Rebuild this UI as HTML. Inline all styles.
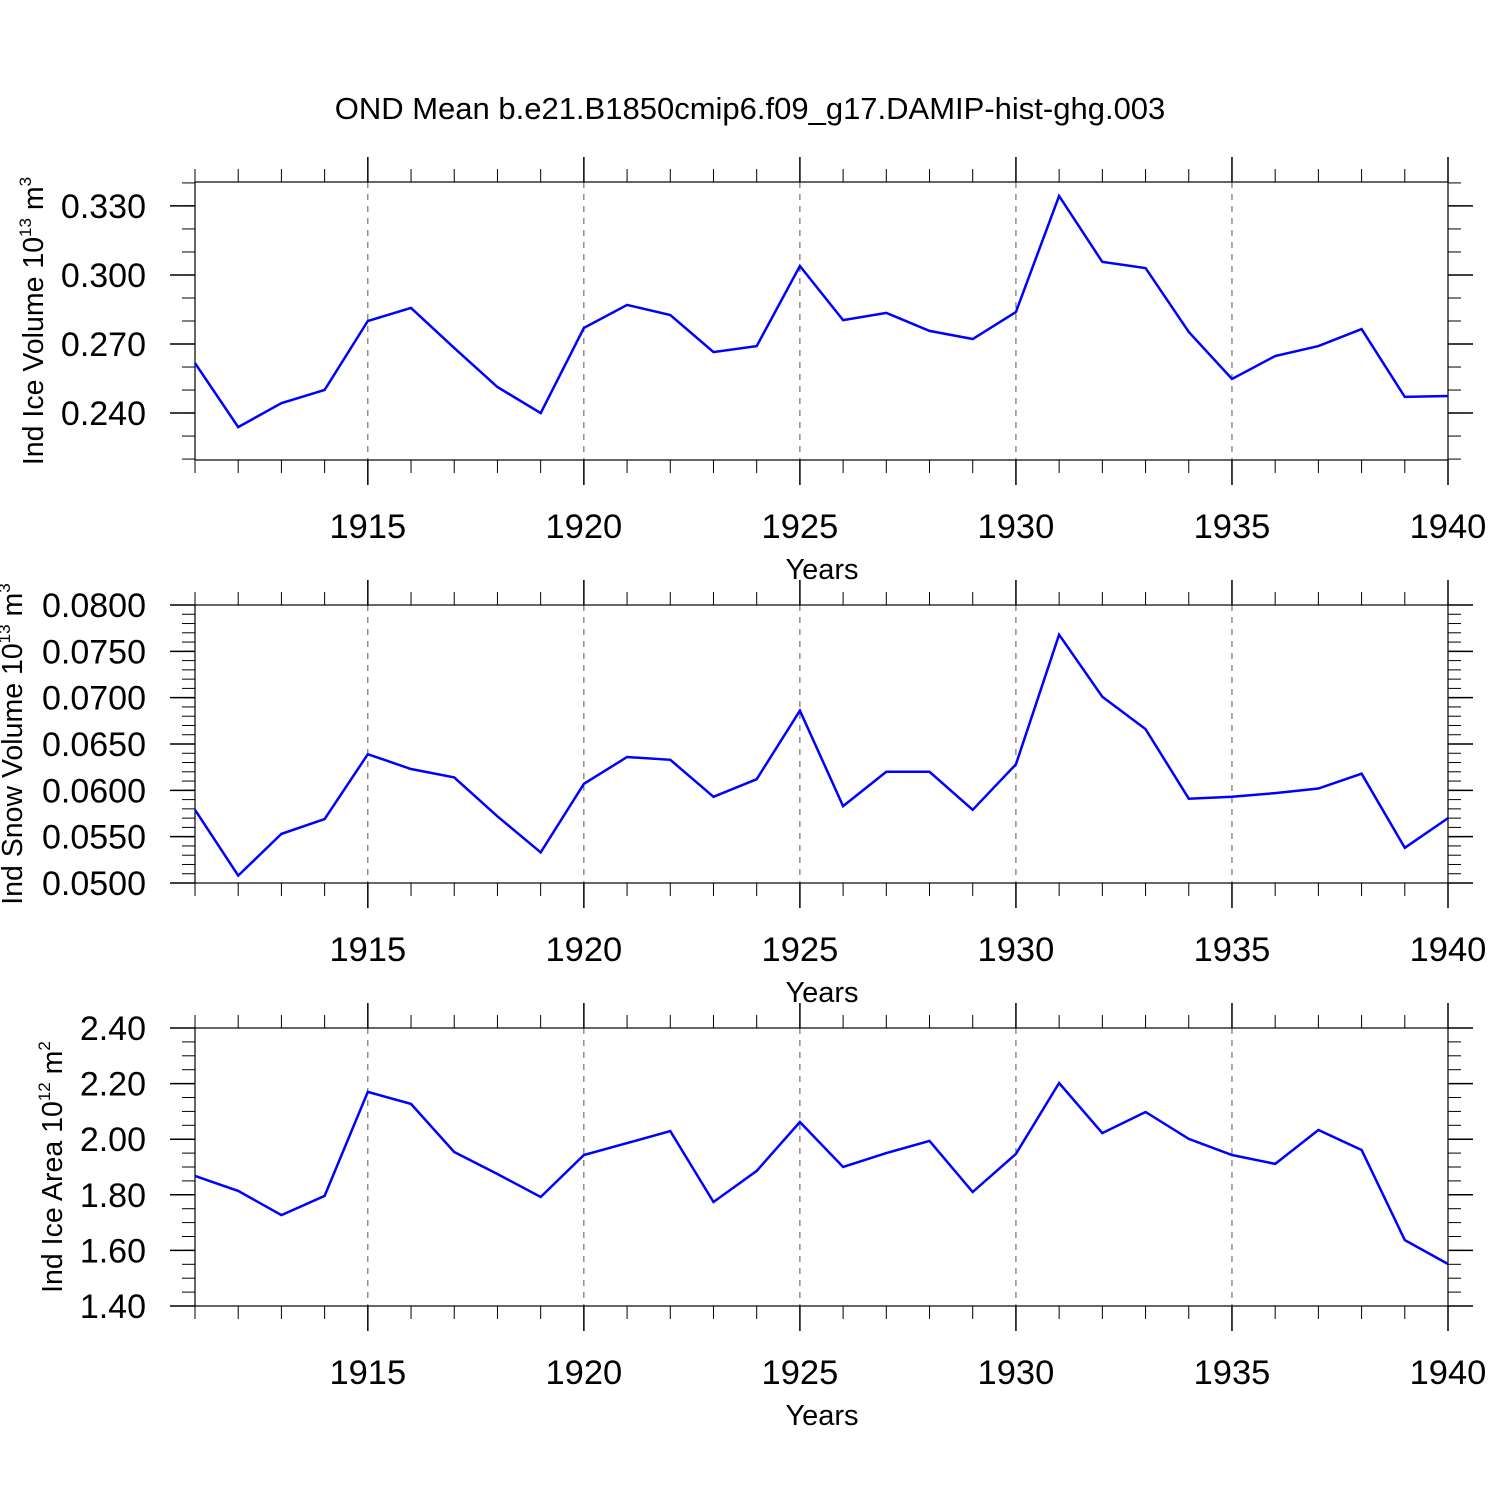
<!DOCTYPE html>
<html><head><meta charset="utf-8"><style>
html,body{margin:0;padding:0;background:#fff;}
svg{display:block;font-family:"Liberation Sans",Arial,sans-serif;}
</style></head><body>
<svg id="chart" width="1500" height="1500" viewBox="0 0 1500 1500" xmlns="http://www.w3.org/2000/svg">
<rect width="1500" height="1500" fill="#fff"/>
<text x="750" y="119" font-size="31" text-anchor="middle">OND Mean b.e21.B1850cmip6.f09_g17.DAMIP-hist-ghg.003</text>
</svg>
<script>
const years = [1911,1912,1913,1914,1915,1916,1917,1918,1919,1920,1921,1922,1923,1924,1925,1926,1927,1928,1929,1930,1931,1932,1933,1934,1935,1936,1937,1938,1939,1940];
const iceVolume = [0.2617,0.2339,0.2443,0.2500,0.2800,0.2857,0.2683,0.2513,0.2400,0.2770,0.2870,0.2826,0.2665,0.2691,0.3039,0.2804,0.2835,0.2757,0.2722,0.2839,0.3343,0.3057,0.3030,0.2752,0.2548,0.2648,0.2691,0.2765,0.2470,0.2474];
const snowVolume = [0.0579,0.0508,0.0553,0.0569,0.0639,0.0623,0.0614,0.0572,0.0533,0.0607,0.0636,0.0633,0.0593,0.0612,0.0686,0.0583,0.0620,0.0620,0.0579,0.0628,0.0768,0.0701,0.0666,0.0591,0.0593,0.0597,0.0602,0.0618,0.0538,0.0570];
const iceArea = [1.868,1.814,1.727,1.796,2.170,2.127,1.954,1.875,1.792,1.943,1.986,2.029,1.774,1.886,2.062,1.900,1.950,1.994,1.810,1.947,2.202,2.022,2.098,2.001,1.943,1.911,2.033,1.961,1.637,1.551];
const xTickLabels = [1915,1920,1925,1930,1935,1940];
const iceVolTicks = ["0.240","0.270","0.300","0.330"];
const snowTicks = ["0.0500","0.0550","0.0600","0.0650","0.0700","0.0750","0.0800"];
const areaTicks = ["1.40","1.60","1.80","2.00","2.20","2.40"];

const svg = document.getElementById('chart');
const NS = 'http://www.w3.org/2000/svg';
const X0 = 195, X1 = 1448;
function xs(yr){ return X0 + (yr - 1911) / (1940 - 1911) * (X1 - X0); }
function mk(tag, attrs, parent){ const e = document.createElementNS(NS, tag); for (const k in attrs) e.setAttribute(k, attrs[k]); (parent||svg).appendChild(e); return e; }

const panels = [
 {name:'ice-volume', top:182, vmin:0.2196, vmax:0.3404, data:iceVolume, ticks:iceVolTicks, minor:0.01, tx:43, title:'Ind Ice Volume 10', sup:'13', unit:' m', usup:'3'},
 {name:'snow-volume', top:605, vmin:0.05, vmax:0.08, data:snowVolume, ticks:snowTicks, minor:0.001, tx:22, title:'Ind Snow Volume 10', sup:'13', unit:' m', usup:'3'},
 {name:'ice-area', top:1028, vmin:1.40, vmax:2.40, data:iceArea, ticks:areaTicks, minor:0.05, tx:62, title:'Ind Ice Area 10', sup:'12', unit:' m', usup:'2'}
];

panels.forEach(p => {
  const H = 278, top = p.top, bot = top + H;
  const g = mk('g', {});
  
  
  const ys = v => bot - (v - p.vmin) / (p.vmax - p.vmin) * H;
  xTickLabels.slice(0, 5).forEach(yr => {
    const l = mk('line', {x1:xs(yr), x2:xs(yr), y1:top, y2:bot, stroke:'#555', 'stroke-width':1, 'stroke-dasharray':'6,6'}, g);
    
    
  });
  years.forEach(yr => {
    const major = yr % 5 === 0;
    const len = major ? 25 : 13;
    mk('line', {x1:xs(yr), x2:xs(yr), y1:top - len, y2:top, stroke:'#000', 'stroke-width':major?1.5:1}, g);
    mk('line', {x1:xs(yr), x2:xs(yr), y1:bot, y2:bot + len, stroke:'#000', 'stroke-width':major?1.5:1}, g);
  });
  xTickLabels.forEach(yr => {
    const t = mk('text', {x:xs(yr), y:bot + 78, 'font-size':34.5, 'text-anchor':'middle'}, g);
    t.textContent = yr;
    
    
  });
  const xt = mk('text', {x:822, y:bot + 119, 'font-size':29, 'text-anchor':'middle'}, g);
  xt.textContent = 'Years';
  
  
  const n0 = Math.ceil(p.vmin / p.minor - 1e-6), n1 = Math.floor(p.vmax / p.minor + 1e-6);
  for (let n = n0; n <= n1; n++) {
    const y = ys(n * p.minor);
    mk('line', {x1:X0 - 13, x2:X0, y1:y, y2:y, stroke:'#000', 'stroke-width':1}, g);
    mk('line', {x1:X1, x2:X1 + 13, y1:y, y2:y, stroke:'#000', 'stroke-width':1}, g);
  }
  p.ticks.forEach(s => {
    const y = ys(parseFloat(s));
    mk('line', {x1:X0 - 25, x2:X0, y1:y, y2:y, stroke:'#000', 'stroke-width':1.5}, g);
    mk('line', {x1:X1, x2:X1 + 25, y1:y, y2:y, stroke:'#000', 'stroke-width':1.5}, g);
    const t = mk('text', {x:X0 - 49, y:y + 12, 'font-size':34, 'text-anchor':'end'}, g);
    t.textContent = s;
    
    
  });
  const fr = mk('rect', {x:X0, y:top, width:X1 - X0, height:H, fill:'none', stroke:'#000', 'stroke-width':1.2}, g);
  
  
  const yt = mk('text', {transform:`translate(${p.tx},${top + H/2}) rotate(-90)`, 'font-size':28.5, 'text-anchor':'middle'}, g);
  
  
  const a = document.createElementNS(NS, 'tspan'); a.textContent = p.title; yt.appendChild(a);
  const b = document.createElementNS(NS, 'tspan'); b.setAttribute('dy', '-12'); b.setAttribute('font-size', '17'); b.textContent = p.sup; yt.appendChild(b);
  const c = document.createElementNS(NS, 'tspan'); c.setAttribute('dy', '12'); c.textContent = p.unit; yt.appendChild(c);
  const d = document.createElementNS(NS, 'tspan'); d.setAttribute('dy', '-12'); d.setAttribute('font-size', '17'); d.textContent = p.usup; yt.appendChild(d);
  const pts = p.data.map((v, i) => xs(years[i]).toFixed(1) + ',' + ys(v).toFixed(1)).join(' ');
  const pl = mk('polyline', {points:pts, fill:'none', stroke:'#0000ff', 'stroke-width':2.5, 'stroke-linejoin':'miter'}, g);
  
  
});
</script>
</body></html>
